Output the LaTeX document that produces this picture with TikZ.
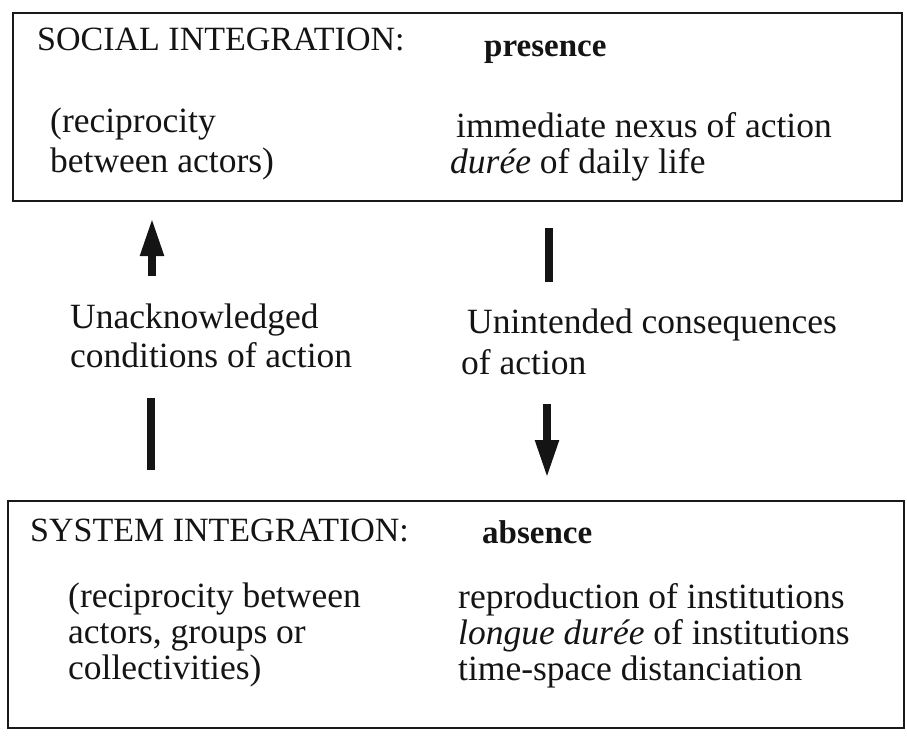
\documentclass[tikz,border=0pt]{standalone}
\usepackage{fontspec}
\setmainfont{Liberation Serif}
\usetikzlibrary{arrows.meta}

\tikzset{
  frame/.style={draw=black!90, line width=2pt},
  txt/.style={anchor=base west, inner sep=0pt, text=black!92,
              font=\fontsize{35.5}{42}\selectfont},
  captxt/.style={txt, font=\fontsize{34}{40}\selectfont},
  headtxt/.style={txt, font=\fontsize{33}{40}\selectfont\bfseries},
  bar/.style={line width=8pt, black!92},
  flow/.style={bar, -{Triangle[length=38pt,width=22pt]}}
}

\begin{document}
\begin{tikzpicture}[x=1pt,y=-1pt]
  \useasboundingbox (0,0) rectangle (907,736);

  % upper frame: social integration
  \draw[frame] (13,13) rectangle (902,201);
  \node[captxt] (soc) at (37,50) {SOCIAL INTEGRATION:};
  \node[headtxt] (pres) at (484,56) {presence};
  \node[txt] (socA) at (50,132) {(reciprocity};
  \node[txt] (socB) at (50,172) {between actors)};
  \node[txt] (presA) at (456,137) {immediate nexus of action};
  \node[txt] (presB) at (450,173) {\textit{durée} of daily life};

  % lower frame: system integration
  \draw[frame] (8,501) rectangle (904,728);
  \node[captxt] (sys) at (30,541) {SYSTEM INTEGRATION:};
  \node[headtxt] (abs) at (482,543) {absence};
  \node[txt] (sysA) at (68,607) {(reciprocity between};
  \node[txt] (sysB) at (68,643) {actors, groups or};
  \node[txt] (sysC) at (68,679) {collectivities)};
  \node[txt] (absA) at (458,608) {reproduction of institutions};
  \node[txt] (absB) at (458,644) {\textit{longue durée} of institutions};
  \node[txt] (absC) at (458,680) {time-space distanciation};

  % middle labels
  \node[txt] (unack) at (70,328) {Unacknowledged};
  \node[txt] (cond) at (70,367) {conditions of action};
  \node[txt] (unint) at (467,333) {Unintended consequences};
  \node[txt] (ofact) at (461,374) {of action};

  % left: conditions feed upward into social integration
  \coordinate (lupTail) at (152,276);
  \coordinate (lupTip) at (152,218);
  \coordinate (lbarTop) at (151,398);
  \coordinate (lbarBot) at (151,470);
  \draw[flow] (lupTail) -- (lupTip);
  \draw[bar] (lbarTop) -- (lbarBot);

  % right: consequences flow downward into system integration
  \coordinate (rbarTop) at (549,228);
  \coordinate (rbarBot) at (549,282);
  \coordinate (rdnTail) at (547,404);
  \coordinate (rdnTip) at (547,478);
  \draw[bar] (rbarTop) -- (rbarBot);
  \draw[flow] (rdnTail) -- (rdnTip);
\end{tikzpicture}
\end{document}
